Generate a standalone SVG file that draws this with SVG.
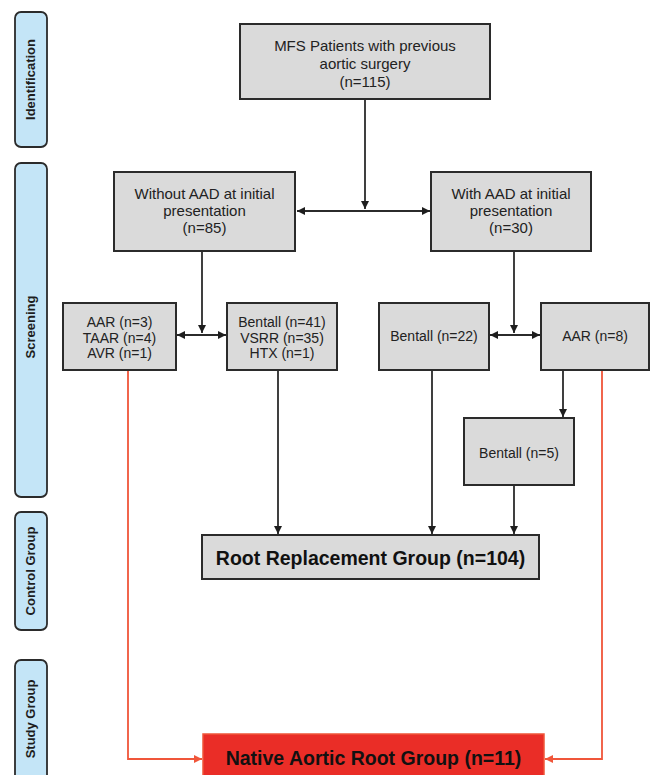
<svg xmlns="http://www.w3.org/2000/svg" width="650" height="775" viewBox="0 0 650 775">
<defs>
<style>
.tab{fill:#c4e5f7;stroke:#2b2b2b;stroke-width:1.8}
.tabt{font-family:"Liberation Sans",Arial,sans-serif;font-weight:bold;font-size:13px;fill:#1e1e1e;text-anchor:middle;dominant-baseline:central}
.box{fill:#dadada;stroke:#2b2b2b;stroke-width:2}
.red{fill:#ea2d27;stroke:#f0563a;stroke-width:1.5}
.t{font-family:"Liberation Sans",Arial,sans-serif;font-size:15px;fill:#222;text-anchor:middle;dominant-baseline:central}
.s{font-family:"Liberation Sans",Arial,sans-serif;font-size:14px;fill:#222;text-anchor:middle;dominant-baseline:central}
.b{font-family:"Liberation Sans",Arial,sans-serif;font-weight:bold;font-size:19.5px;fill:#111;text-anchor:middle;dominant-baseline:central}
.ln{fill:none;stroke:#2b2b2b;stroke-width:1.8}
.rl{fill:none;stroke:#f0563a;stroke-width:1.8}
</style>
<marker id="ah" markerUnits="userSpaceOnUse" markerWidth="9" markerHeight="9" refX="8" refY="4" orient="auto-start-reverse" viewBox="0 0 9 8">
<path d="M0,0 L8,4 L0,8 z" fill="#1e1e1e"/>
</marker>
<marker id="ahr" markerUnits="userSpaceOnUse" markerWidth="9" markerHeight="9" refX="8" refY="4" orient="auto" viewBox="0 0 9 8">
<path d="M0,0 L8,4 L0,8 z" fill="#f0563a"/>
</marker>
</defs>
<rect width="650" height="775" fill="#ffffff"/>

<g id="tabs">
<g id="tab-identification"><rect class="tab" x="15" y="12" width="32" height="135" rx="6"/><text class="tabt" transform="translate(30,79.5) rotate(-90)">Identification</text></g>
<g id="tab-screening"><rect class="tab" x="15" y="163" width="32" height="334" rx="6"/><text class="tabt" transform="translate(30,327) rotate(-90)">Screening</text></g>
<g id="tab-control"><rect class="tab" x="15" y="512" width="32" height="118" rx="6"/><text class="tabt" transform="translate(30,571) rotate(-90)">Control Group</text></g>
<g id="tab-study"><rect class="tab" x="15" y="660" width="32" height="125" rx="6"/><text class="tabt" transform="translate(30,719) rotate(-90)">Study Group</text></g>
</g>

<g id="connectors">
<path class="ln" d="M365,99 V209" marker-end="url(#ah)"/>
<path class="ln" d="M297,211 H430" marker-start="url(#ah)" marker-end="url(#ah)"/>
<path class="ln" d="M202,251 V333" marker-end="url(#ah)"/>
<path class="ln" d="M177,335 H226" marker-start="url(#ah)" marker-end="url(#ah)"/>
<path class="ln" d="M514,251 V333" marker-end="url(#ah)"/>
<path class="ln" d="M490,335 H540" marker-start="url(#ah)" marker-end="url(#ah)"/>
<path class="ln" d="M563,370 V417" marker-end="url(#ah)"/>
<path class="ln" d="M278,370 V534" marker-end="url(#ah)"/>
<path class="ln" d="M432,370 V534" marker-end="url(#ah)"/>
<path class="ln" d="M514,485 V534" marker-end="url(#ah)"/>
<path class="rl" d="M128,370 V759 H202" marker-end="url(#ahr)"/>
<path class="rl" d="M602,370 V759 H545" marker-end="url(#ahr)"/>
</g>

<g id="n-top"><rect class="box" x="240" y="24" width="250" height="75"/>
<text class="t" x="365" y="45">MFS Patients with previous</text>
<text class="t" x="365" y="63">aortic surgery</text>
<text class="t" x="365" y="81">(n=115)</text></g>

<g id="n-without"><rect class="box" x="114" y="172" width="181" height="79"/>
<text class="t" x="204.5" y="193">Without AAD at initial</text>
<text class="t" x="204.5" y="210">presentation</text>
<text class="t" x="204.5" y="227">(n=85)</text></g>

<g id="n-with"><rect class="box" x="431" y="172" width="160" height="79"/>
<text class="t" x="511" y="193">With AAD at initial</text>
<text class="t" x="511" y="210">presentation</text>
<text class="t" x="511" y="227">(n=30)</text></g>

<g id="n-aar3"><rect class="box" x="63" y="303" width="113" height="67"/>
<text class="s" x="119.5" y="322">AAR (n=3)</text>
<text class="s" x="119.5" y="337.5">TAAR (n=4)</text>
<text class="s" x="119.5" y="353">AVR (n=1)</text></g>

<g id="n-bentall41"><rect class="box" x="227" y="303" width="110" height="67"/>
<text class="s" x="282" y="322">Bentall (n=41)</text>
<text class="s" x="282" y="337.5">VSRR (n=35)</text>
<text class="s" x="282" y="353">HTX (n=1)</text></g>

<g id="n-bentall22"><rect class="box" x="379" y="303" width="110" height="67"/>
<text class="s" x="434" y="336">Bentall (n=22)</text></g>

<g id="n-aar8"><rect class="box" x="541" y="303" width="108" height="67"/>
<text class="s" x="595" y="336">AAR (n=8)</text></g>

<g id="n-bentall5"><rect class="box" x="464" y="418" width="110" height="67"/>
<text class="s" x="519" y="453">Bentall (n=5)</text></g>

<g id="n-root"><rect class="box" x="202" y="535" width="337" height="44"/>
<text class="b" x="370.5" y="558">Root Replacement Group (n=104)</text></g>

<g id="n-native"><rect class="red" x="203" y="734" width="341" height="52"/>
<text class="b" x="373.5" y="758">Native Aortic Root Group (n=11)</text></g>
</svg>
